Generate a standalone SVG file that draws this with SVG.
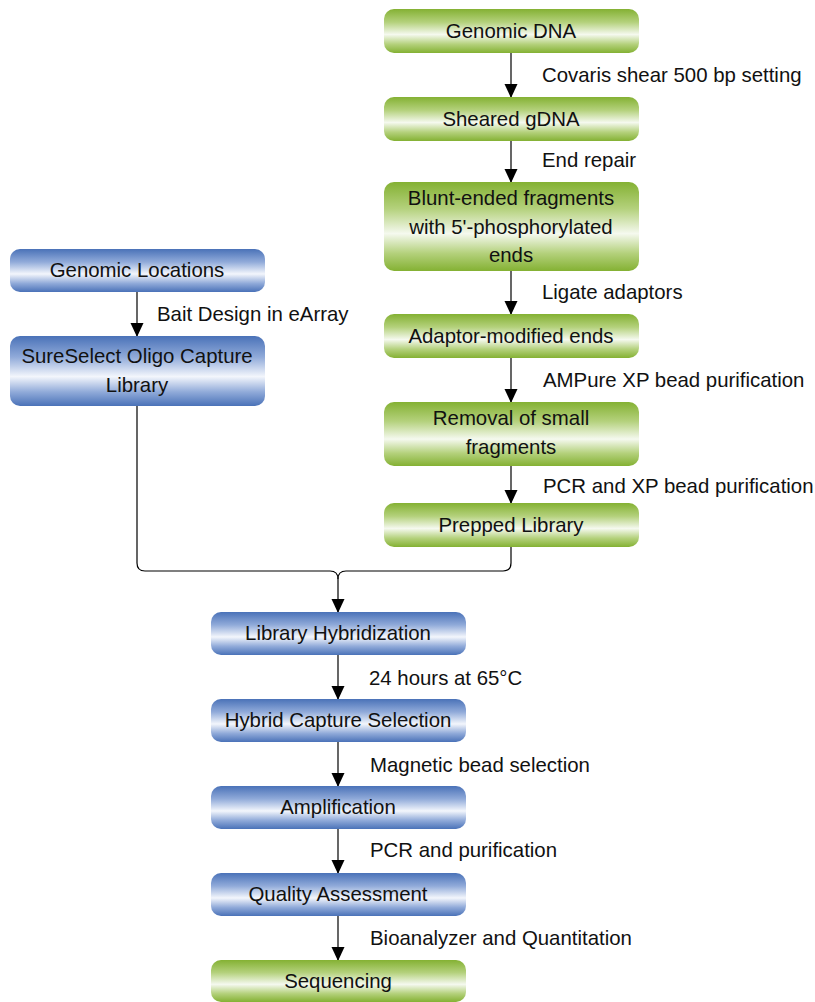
<svg xmlns="http://www.w3.org/2000/svg" width="815" height="1002" viewBox="0 0 815 1002">
<defs>
<linearGradient id="gGreen" x1="0" y1="0" x2="0" y2="1">
<stop offset="0" stop-color="#84b133"/>
<stop offset="0.3" stop-color="#b4d17c"/>
<stop offset="0.58" stop-color="#f5f9ef"/>
<stop offset="0.8" stop-color="#b4d17c"/>
<stop offset="1" stop-color="#84b133"/>
</linearGradient>
<linearGradient id="gBlue" x1="0" y1="0" x2="0" y2="1">
<stop offset="0" stop-color="#4a72b8"/>
<stop offset="0.3" stop-color="#90aad9"/>
<stop offset="0.58" stop-color="#f3f6fc"/>
<stop offset="0.8" stop-color="#90aad9"/>
<stop offset="1" stop-color="#4a72b8"/>
</linearGradient>
<marker id="arr" markerUnits="userSpaceOnUse" markerWidth="14" markerHeight="16" refX="13" refY="6.5" orient="auto">
<path d="M0,0 L14,6.5 L0,13 Z" fill="#000"/>
</marker>
<style>
.green{fill:url(#gGreen);}
.blue{fill:url(#gBlue);}
text{font-family:"Liberation Sans",Arial,sans-serif;font-size:20.4px;fill:#111;}
.nt{text-anchor:middle;}
.conn{fill:none;stroke:#000;stroke-width:1.2;}
</style>
</defs>

<g id="connectors">
<path class="conn" d="M511,53 V97" marker-end="url(#arr)"/>
<path class="conn" d="M511,141 V182" marker-end="url(#arr)"/>
<path class="conn" d="M511,271 V314" marker-end="url(#arr)"/>
<path class="conn" d="M511,358 V402" marker-end="url(#arr)"/>
<path class="conn" d="M511,466 V503" marker-end="url(#arr)"/>
<path class="conn" d="M137,292 V336" marker-end="url(#arr)"/>
<path class="conn" d="M137,406 V563 Q137,571 145,571 H330 Q338,571 338,579 V612" marker-end="url(#arr)"/>
<path class="conn" d="M511,547 V563 Q511,571 503,571 H346 Q338,571 338,579"/>
<path class="conn" d="M338,655 V699" marker-end="url(#arr)"/>
<path class="conn" d="M338,742 V786" marker-end="url(#arr)"/>
<path class="conn" d="M338,829 V873" marker-end="url(#arr)"/>
<path class="conn" d="M338,916 V960" marker-end="url(#arr)"/>
<text x="542" y="82">Covaris shear 500 bp setting</text>
<text x="542" y="167">End repair</text>
<text x="542" y="299">Ligate adaptors</text>
<text x="543" y="387">AMPure XP bead purification</text>
<text x="543" y="493">PCR and XP bead purification</text>
<text x="157" y="321">Bait Design in eArray</text>
<text x="369" y="685">24 hours at 65°C</text>
<text x="370" y="772">Magnetic bead selection</text>
<text x="370" y="857">PCR and purification</text>
<text x="370" y="945">Bioanalyzer and Quantitation</text>
</g>

<g id="n-genomic-dna">
<rect class="green" x="384" y="9" width="255" height="44" rx="10"/>
<text class="nt" x="511" y="38">Genomic DNA</text>
</g>
<g id="n-sheared">
<rect class="green" x="384" y="97" width="255" height="44" rx="10"/>
<text class="nt" x="511" y="126">Sheared gDNA</text>
</g>
<g id="n-blunt">
<rect class="green" x="384" y="182" width="255" height="89" rx="10"/>
<text class="nt" x="511" y="205">Blunt-ended fragments</text>
<text class="nt" x="511" y="234">with 5'-phosphorylated</text>
<text class="nt" x="511" y="262">ends</text>
</g>
<g id="n-adaptor">
<rect class="green" x="384" y="314" width="255" height="44" rx="10"/>
<text class="nt" x="511" y="343">Adaptor-modified ends</text>
</g>
<g id="n-removal">
<rect class="green" x="384" y="402" width="255" height="64" rx="10"/>
<text class="nt" x="511" y="425">Removal of small</text>
<text class="nt" x="511" y="454">fragments</text>
</g>
<g id="n-prepped">
<rect class="green" x="384" y="503" width="255" height="44" rx="10"/>
<text class="nt" x="511" y="532">Prepped Library</text>
</g>
<g id="n-genomic-locations">
<rect class="blue" x="10" y="249" width="255" height="43" rx="10"/>
<text class="nt" x="137" y="277">Genomic Locations</text>
</g>
<g id="n-sureselect">
<rect class="blue" x="10" y="336" width="255" height="70" rx="10"/>
<text class="nt" x="137" y="363">SureSelect Oligo Capture</text>
<text class="nt" x="137" y="392">Library</text>
</g>
<g id="n-hybridization">
<rect class="blue" x="211" y="612" width="255" height="43" rx="10"/>
<text class="nt" x="338" y="640">Library Hybridization</text>
</g>
<g id="n-capture">
<rect class="blue" x="211" y="699" width="255" height="43" rx="10"/>
<text class="nt" x="338" y="727">Hybrid Capture Selection</text>
</g>
<g id="n-amplification">
<rect class="blue" x="211" y="786" width="255" height="43" rx="10"/>
<text class="nt" x="338" y="814">Amplification</text>
</g>
<g id="n-quality">
<rect class="blue" x="211" y="873" width="255" height="43" rx="10"/>
<text class="nt" x="338" y="901">Quality Assessment</text>
</g>
<g id="n-sequencing">
<rect class="green" x="211" y="960" width="255" height="42" rx="10"/>
<text class="nt" x="338" y="988">Sequencing</text>
</g>
</svg>
